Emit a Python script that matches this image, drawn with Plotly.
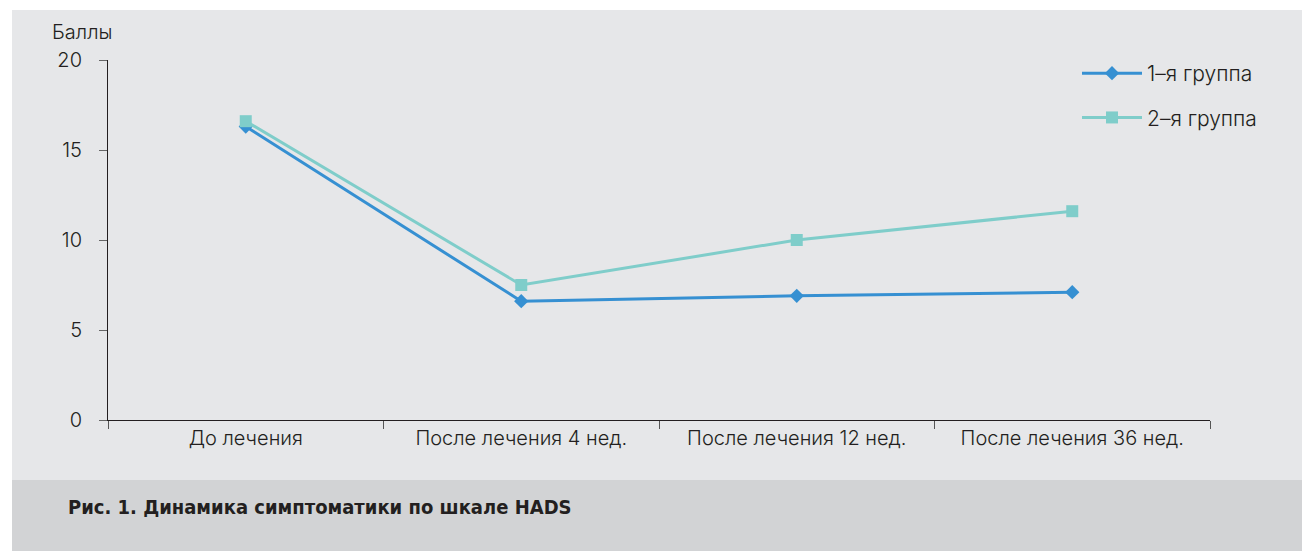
import plotly.graph_objects as go

# Measurement time points and HADS scores per group
categories = ["До лечения", "После лечения 4 нед.", "После лечения 12 нед.", "После лечения 36 нед."]
group1 = [16.3, 6.6, 6.9, 7.1]
group2 = [16.6, 7.5, 10.0, 11.6]
series_names = ["1–я группа", "2–я группа"]
y_ticks = [0, 5, 10, 15, 20]

W, H = 1302, 551
FONT = "Inter, Open Sans, Liberation Sans, sans-serif"
TEXT = "#231F20"
LIGHT = 300

fig = go.Figure()
fig.add_trace(go.Scatter(
    x=categories, y=group1, name=series_names[0], mode="lines+markers",
    legendgroup="g1",
    line=dict(color="#3690D2", width=3),
    marker=dict(symbol="diamond", size=11, color="#3690D2"),
))
fig.add_trace(go.Scatter(
    x=categories, y=group2, name=series_names[1], mode="lines+markers",
    legendgroup="g2",
    line=dict(color="#7FCDCA", width=3),
    marker=dict(symbol="square", size=12, color="#7FCDCA"),
))

# Panel backgrounds: chart area and caption band
fig.add_shape(type="rect", xref="paper", yref="paper", layer="below",
              x0=(12 - 108) / 1102, x1=(W - 108) / 1102,
              y0=(420 - 480) / 360, y1=(420 - 10) / 360,
              fillcolor="#E6E7E9", line_width=0)
fig.add_shape(type="rect", xref="paper", yref="paper", layer="below",
              x0=(12 - 108) / 1102, x1=(W - 108) / 1102,
              y0=(420 - H) / 360, y1=(420 - 480) / 360,
              fillcolor="#D2D3D5", line_width=0)

fig.add_annotation(text="Баллы", xref="paper", yref="paper",
                   x=(50 - 108) / 1102, y=(420 - 32) / 360,
                   xanchor="left", yanchor="middle", showarrow=False,
                   font=dict(family=FONT, size=20, color=TEXT, weight=LIGHT))
fig.add_annotation(text="<b>Рис. 1. Динамика симптоматики по шкале HADS</b>",
                   xref="paper", yref="paper",
                   x=(66 - 108) / 1102, y=(420 - 507) / 360,
                   xanchor="left", yanchor="middle", showarrow=False,
                   font=dict(family="Liberation Sans Narrow, DejaVu Sans Condensed, sans-serif",
                             size=20, color=TEXT))

fig.update_layout(
    width=W, height=H,
    margin=dict(l=108, r=W - 1210, t=60, b=H - 420),
    paper_bgcolor="white",
    plot_bgcolor="rgba(0,0,0,0)",
    font=dict(family=FONT, size=20, color=TEXT, weight=LIGHT),
    showlegend=True,
    legend=dict(x=(1077 - 108) / 1102, y=(420 - 53) / 360, xanchor="left", yanchor="top",
                bgcolor="rgba(0,0,0,0)",
                font=dict(family=FONT, size=21, color=TEXT, weight=LIGHT),
                traceorder="grouped", tracegroupgap=14, itemwidth=60),
    xaxis=dict(
        type="category", range=[-0.5, 3.5], showgrid=False,
        showline=True, linecolor="#231F20", linewidth=1,
        ticks="outside", tickson="boundaries", ticklen=8, tickcolor="#555555",
        tickfont=dict(family=FONT, size=20, color=TEXT, weight=LIGHT),
    ),
    yaxis=dict(
        range=[0, 20], tickvals=y_ticks, showgrid=False, zeroline=False,
        showline=True, linecolor="#231F20", linewidth=1,
        ticks="outside", ticklen=8, tickcolor="#666666",
        tickfont=dict(family=FONT, size=20, color=TEXT, weight=LIGHT),
        ticklabelstandoff=13,
    ),
)

fig.write_html("out.html")
